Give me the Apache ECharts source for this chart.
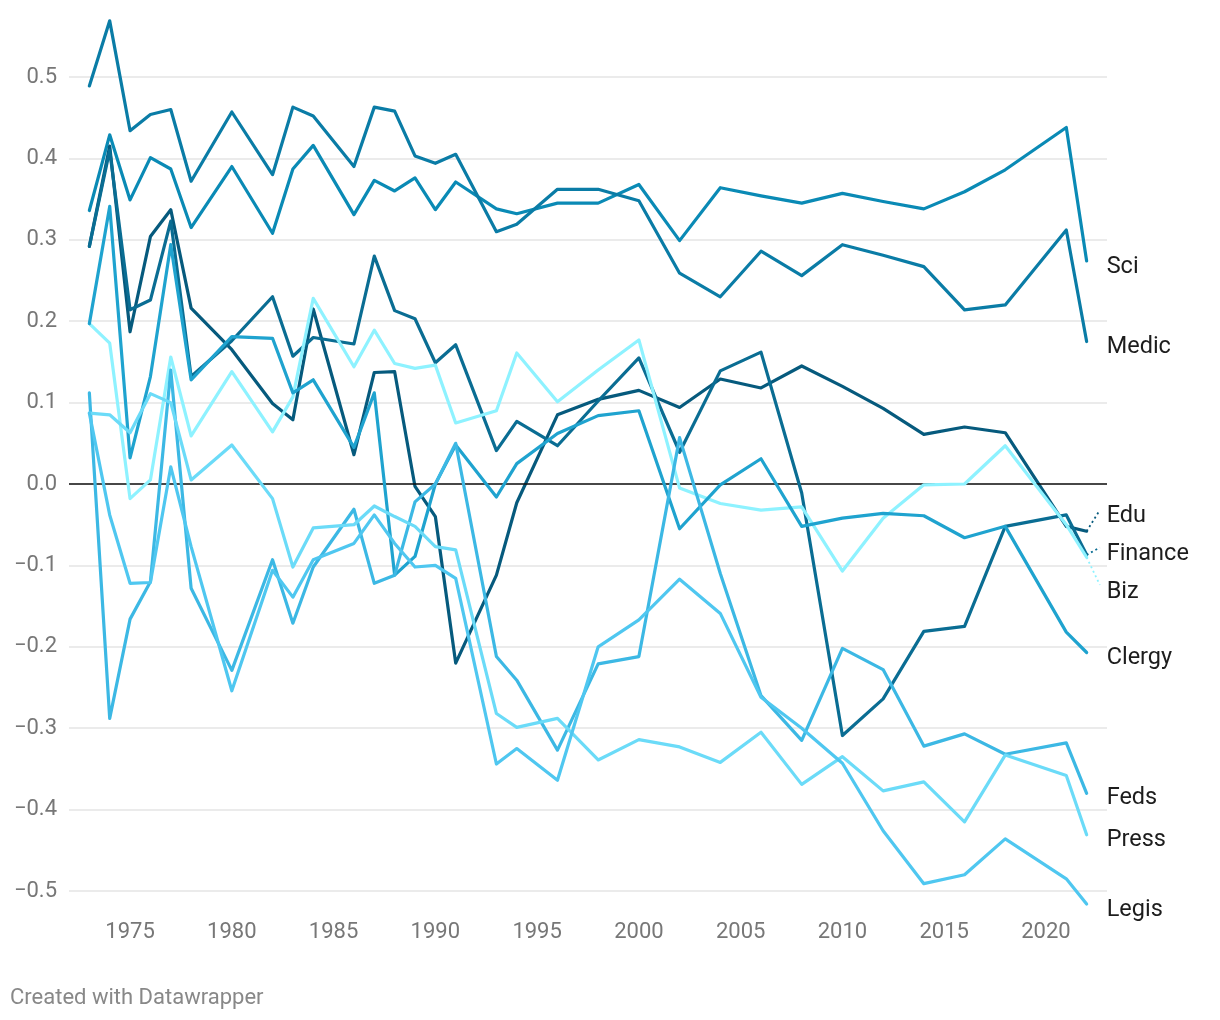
<!DOCTYPE html>
<html>
<head>
<meta charset="utf-8">
<script src="https://cdn.jsdelivr.net/npm/echarts@6/dist/echarts.min.js"></script>
<style>
  html, body { margin: 0; padding: 0; background: #fff; }
  #chart { width: 1220px; height: 1020px; }
</style>
</head>
<body>
<div id="chart"></div>
<script>
const years = [1973,1974,1975,1976,1977,1978,1980,1982,1983,1984,1986,1987,1988,1989,1990,1991,1993,1994,1996,1998,2000,2002,2004,2006,2008,2010,2012,2014,2016,2018,2021,2022];

const sci     = [0.336,0.429,0.349,0.401,0.387,0.315,0.390,0.308,0.387,0.416,0.331,0.373,0.360,0.376,0.337,0.371,0.338,0.332,0.345,0.345,0.368,0.299,0.364,0.354,0.345,0.357,0.347,0.338,0.359,0.386,0.438,0.274];
const medic   = [0.489,0.569,0.434,0.454,0.460,0.372,0.457,0.380,0.463,0.452,0.390,0.463,0.458,0.403,0.394,0.405,0.310,0.319,0.362,0.362,0.348,0.259,0.230,0.286,0.256,0.294,0.281,0.267,0.214,0.220,0.312,0.175];
const edu     = [0.292,0.415,0.187,0.304,0.337,0.216,0.165,0.099,0.079,0.215,0.036,0.137,0.138,-0.003,-0.040,-0.220,-0.112,-0.023,0.085,0.104,0.115,0.094,0.129,0.118,0.145,0.120,0.093,0.061,0.070,0.063,-0.052,-0.058];
const finance = [0.292,0.410,0.214,0.226,0.323,0.132,0.176,0.230,0.157,0.180,0.172,0.280,0.213,0.203,0.149,0.171,0.041,0.077,0.047,0.102,0.155,0.039,0.139,0.162,-0.011,-0.309,-0.264,-0.181,-0.175,-0.052,-0.038,-0.087];
const biz     = [0.197,0.173,-0.018,0.005,0.156,0.059,0.138,0.064,0.107,0.228,0.144,0.189,0.148,0.142,0.146,0.075,0.090,0.161,0.101,0.140,0.177,-0.005,-0.024,-0.032,-0.028,-0.107,-0.042,-0.001,0.000,0.047,-0.050,-0.090];
const clergy  = [0.197,0.341,0.032,0.132,0.294,0.128,0.181,0.179,0.112,0.128,0.045,0.112,-0.112,-0.089,0.000,0.048,-0.016,0.025,0.062,0.084,0.090,-0.055,-0.001,0.031,-0.052,-0.042,-0.036,-0.039,-0.066,-0.052,-0.182,-0.207];
const feds    = [0.112,-0.288,-0.166,-0.120,0.140,-0.128,-0.229,-0.093,-0.171,-0.102,-0.031,-0.122,-0.112,-0.022,0.000,0.050,-0.212,-0.241,-0.327,-0.221,-0.212,0.057,-0.110,-0.260,-0.315,-0.202,-0.228,-0.322,-0.307,-0.332,-0.318,-0.380];
const press   = [0.087,0.085,0.063,0.111,0.100,0.005,0.048,-0.018,-0.102,-0.054,-0.050,-0.027,-0.040,-0.052,-0.077,-0.081,-0.282,-0.299,-0.288,-0.339,-0.314,-0.323,-0.342,-0.305,-0.369,-0.335,-0.377,-0.366,-0.415,-0.333,-0.358,-0.431];
const legis   = [0.087,-0.038,-0.122,-0.121,0.021,-0.077,-0.254,-0.106,-0.139,-0.093,-0.073,-0.038,-0.073,-0.102,-0.100,-0.116,-0.344,-0.325,-0.364,-0.200,-0.167,-0.117,-0.159,-0.262,-0.300,-0.343,-0.426,-0.491,-0.480,-0.436,-0.485,-0.516];

const yTicks = [-0.5,-0.4,-0.3,-0.2,-0.1,0,0.1,0.2,0.3,0.4,0.5];
const xTickLabels = [1975,1980,1985,1990,1995,2000,2005,2010,2015,2020];

const seriesDefs = [
  { name: 'Sci',     data: sci,     color: '#0a8ab5', dy: 6 },
  { name: 'Medic',   data: medic,   color: '#0a7ca6', dy: 6 },
  { name: 'Edu',     data: edu,     color: '#065a7d', dy: -15, lead: 0.026 },
  { name: 'Finance', data: finance, color: '#0a6d93', dy: -1,  lead: 0.009 },
  { name: 'Biz',     data: biz,     color: '#8ef2ff', dy: 35,  lead: -0.034 },
  { name: 'Clergy',  data: clergy,  color: '#1fa3cf', dy: 6 },
  { name: 'Feds',    data: feds,    color: '#3cb8e4', dy: 5 },
  { name: 'Press',   data: press,   color: '#6bdbf8', dy: 5 },
  { name: 'Legis',   data: legis,   color: '#4fc7f0', dy: 6 }
];

const FONT = 'Roboto, "Noto Sans", sans-serif';
const fmtY = v => {
  if (Math.abs(v) < 1e-9) return '0.0';
  return v.toFixed(1).replace('-', '\u2212');
};

const series = seriesDefs.map((s, i) => {
  const last = s.data[s.data.length - 1];
  const lastYear = years[years.length - 1];
  const ml = [];
  if (i === 0) {
    ml.push({ yAxis: 0, lineStyle: { color: '#111', width: 1.6, type: 'solid' } });
  }
  if (s.lead !== undefined) {
    ml.push([
      { coord: [lastYear, last], lineStyle: { color: s.color, width: 1.8, type: [2, 3] } },
      { coord: [lastYear + 0.65, last + s.lead] }
    ]);
  }
  return {
    name: s.name,
    type: 'line',
    data: years.map((y, k) => [y, s.data[k]]),
    showSymbol: false,
    symbol: 'none',
    clip: false,
    lineStyle: { color: s.color, width: 3.2, cap: 'round', join: 'round' },
    itemStyle: { color: s.color },
    emphasis: { disabled: true },
    silent: true,
    endLabel: {
      show: true,
      formatter: '{a}',
      color: '#1d1d1d',
      fontSize: 23.5,
      fontFamily: FONT,
      distance: 0,
      offset: [20, s.dy]
    },
    markLine: ml.length ? {
      silent: true,
      symbol: ['none', 'none'],
      label: { show: false },
      animation: false,
      data: ml
    } : undefined,
    z: 2 + i
  };
});

const chart = echarts.init(document.getElementById('chart'), null, { renderer: 'canvas' });
chart.setOption({
  animation: false,
  backgroundColor: '#ffffff',
  grid: { left: 69, right: 113, top: 77, bottom: 129, containLabel: false },
  xAxis: {
    type: 'value',
    min: 1972,
    max: 2023,
    interval: 1,
    axisLine: { show: false },
    axisTick: { show: false },
    splitLine: { show: false },
    axisLabel: {
      color: '#777',
      fontSize: 22,
      fontFamily: FONT,
      margin: 30,
      formatter: v => (xTickLabels.indexOf(v) >= 0 ? String(v) : '')
    }
  },
  yAxis: {
    type: 'value',
    min: yTicks[0],
    max: yTicks[yTicks.length - 1],
    interval: 0.1,
    axisLine: { show: false },
    axisTick: { show: false },
    splitLine: { show: true, lineStyle: { color: '#e4e4e4', width: 1.5 } },
    axisLabel: {
      color: '#777',
      fontSize: 22,
      fontFamily: FONT,
      margin: 12,
      formatter: fmtY
    }
  },
  series: series,
  graphic: [
    {
      type: 'text',
      left: 10,
      top: 987,
      style: {
        text: 'Created with Datawrapper',
        fill: '#888',
        font: '22px ' + FONT
      }
    }
  ]
});
</script>
</body>
</html>
